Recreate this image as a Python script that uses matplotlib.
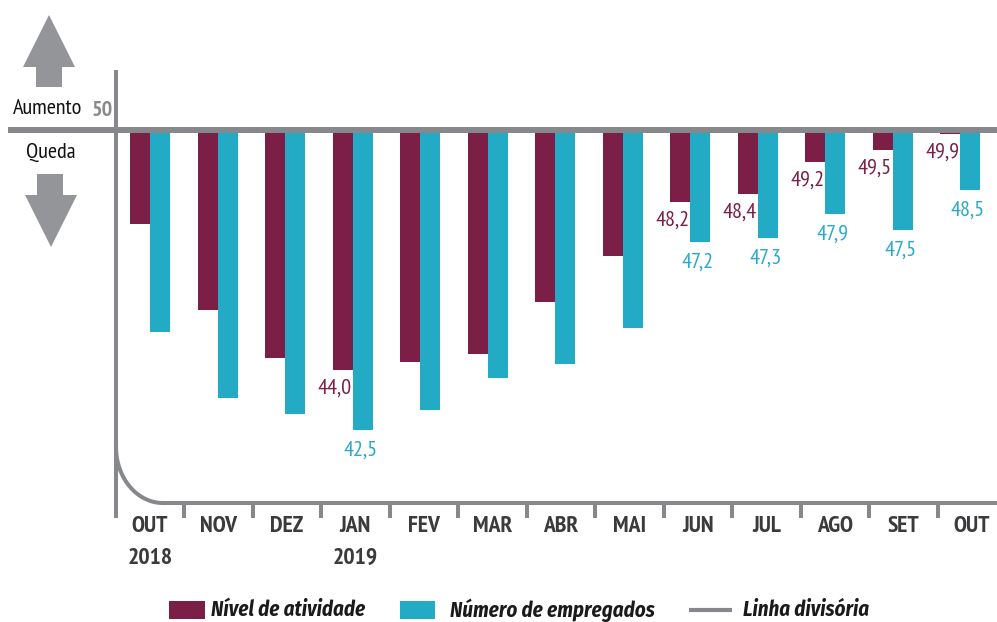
import numpy as np
import matplotlib
matplotlib.use("Agg")
import matplotlib.pyplot as plt
from matplotlib.patches import Polygon, Rectangle
from matplotlib import font_manager as fm

# ---------------- data ----------------
months = ["OUT", "NOV", "DEZ", "JAN", "FEV", "MAR", "ABR", "MAI", "JUN", "JUL", "AGO", "SET", "OUT"]
years = ["2018", "", "", "2019", "", "", "", "", "", "", "", "", ""]
atividade = [47.65, 45.5, 44.3, 44.0, 44.2, 44.4, 45.7, 46.85, 48.2, 48.4, 49.2, 49.5, 49.9]
empregados = [44.95, 43.3, 42.9, 42.5, 43.0, 43.8, 44.15, 45.05, 47.2, 47.3, 47.9, 47.5, 48.5]
show_label = [False, False, False, True, False, False, False, False, True, True, True, True, True]
divisoria = 50
legend_labels = ["Nível de atividade", "Número de empregados", "Linha divisória"]

PURPLE = "#7b1f47"
TEAL = "#23aac4"
TEAL_TXT = "#2aa9c9"
GRAY = "#87888c"
ARROW = "#939598"
DARK = "#3b3b3d"

avail = {f.name for f in fm.fontManager.ttflist}
def pick(cands):
    return [c for c in cands if c in avail] + ["DejaVu Sans"]

NARROW = pick(["PT Sans Narrow", "Archivo Narrow", "Fira Sans Condensed", "Roboto Condensed"])
LEGF = pick(["Fira Sans Condensed", "Roboto Condensed", "Archivo Narrow", "Asap Condensed"])
plt.rcParams["font.family"] = NARROW

W, H = 997, 622
fig = plt.figure(figsize=(W / 100, H / 100), dpi=100)

# pixel mapping: x_px = 150 + 67.5*i ; y_px = 130 + (50 - v)*40
sx, x0 = 67.5, 150.0
sy, y0 = 40.0, 130.0
ax = fig.add_axes([0, 0, 1, 1])
ax.set_xlim(-x0 / sx, (W - x0) / sx)
ax.set_ylim(divisoria - (H - y0) / sy, divisoria + y0 / sy)
ax.axis("off")

x = np.arange(len(months))
bw = 20 / sx
ax.bar(x - bw / 2, np.array(atividade) - divisoria, bottom=divisoria, width=bw,
       color=PURPLE, zorder=2, linewidth=0)
ax.bar(x + bw / 2, np.array(empregados) - divisoria, bottom=divisoria, width=bw,
       color=TEAL, zorder=2, linewidth=0)

# baseline (Linha divisória)
ax.plot([(8 - x0) / sx, (W - x0) / sx], [divisoria, divisoria], color=GRAY,
        lw=4.3, solid_capstyle="butt", zorder=3)

def fmt(v):
    return f"{v:.1f}".replace(".", ",")

for i in range(len(months)):
    if not show_label[i]:
        continue
    ax.annotate(fmt(atividade[i]), xy=(x[i], atividade[i]), xytext=(-0.5, -13),
                textcoords="offset points", ha="right", va="center",
                fontsize=16, color=PURPLE, zorder=4)
    ax.annotate(fmt(empregados[i]), xy=(x[i] + bw / 2, empregados[i]), xytext=(-1.5, -14.5),
                textcoords="offset points", ha="center", va="center",
                fontsize=16, color=TEAL_TXT, zorder=4)

# ---------------- decoration overlay in pixel coords ----------------
deco = fig.add_axes([0, 0, 1, 1], zorder=-1)
deco.set_xlim(0, W)
deco.set_ylim(H, 0)
deco.axis("off")

lw_axis = 2.9
deco.plot([116, 116], [70, 518], color=GRAY, lw=lw_axis, solid_capstyle="butt")
t = np.linspace(np.pi, np.pi / 2, 60)
cx, cy, rx, ry = 163, 447, 47, 56
deco.plot(cx + rx * np.cos(t), cy + ry * np.sin(t), color=GRAY, lw=lw_axis)
deco.plot([163, W], [503, 503], color=GRAY, lw=lw_axis, solid_capstyle="butt")
tick_sp = 68.5
for k in range(len(months) - 1):
    tx = 184 + tick_sp * k
    deco.plot([tx, tx], [503, 518], color=GRAY, lw=lw_axis, solid_capstyle="butt")

for i, (m, yv) in enumerate(zip(months, years)):
    lx = 150 + tick_sp * i
    deco.text(lx, 526, "\u200a".join(m) if False else m, ha="center", va="center",
              fontsize=17, fontweight="bold", color=DARK)
    if yv:
        deco.text(lx, 558, yv, ha="center", va="center", fontsize=17, fontweight="bold", color=DARK)

up = [(49, 15), (75, 67), (62, 67), (62, 87), (36, 87), (36, 67), (23, 67)]
down = [(51, 247), (77, 195), (63, 195), (63, 174), (37, 174), (37, 195), (25, 195)]
deco.add_patch(Polygon(up, closed=True, color=ARROW, lw=0))
deco.add_patch(Polygon(down, closed=True, color=ARROW, lw=0))

deco.text(48, 108, "Aumento", ha="center", va="center", fontsize=16, color="#111111")
deco.text(102, 111, "50", ha="center", va="center", fontsize=16, fontweight="bold", color="#8a8a8c")
deco.text(51, 153, "Queda", ha="center", va="center", fontsize=16, color="#111111")

# legend
ly = 610
deco.add_patch(Rectangle((169, 601), 36, 18, color=PURPLE, lw=0))
deco.text(211, ly, legend_labels[0], ha="left", va="center", fontsize=15, family=LEGF,
          fontweight="bold", fontstyle="italic", color="#1a1a1a")
deco.add_patch(Rectangle((400, 601), 35, 18, color=TEAL, lw=0))
deco.text(450, ly, legend_labels[1], ha="left", va="center", fontsize=15, family=LEGF,
          fontweight="bold", fontstyle="italic", color="#1a1a1a")
deco.plot([689, 732], [ly, ly], color=GRAY, lw=3, solid_capstyle="butt")
deco.text(743, ly, legend_labels[2], ha="left", va="center", fontsize=15, family=LEGF,
          fontweight="bold", fontstyle="italic", color="#1a1a1a")

fig.savefig("out.png", dpi=100)
